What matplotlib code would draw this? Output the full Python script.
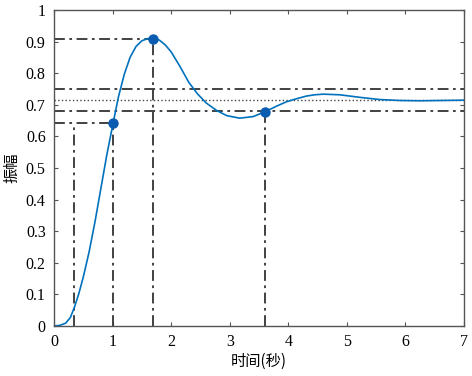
import matplotlib
matplotlib.use("Agg")
import matplotlib.pyplot as plt

# Curva de respuesta
tiempo = [0, 0.1, 0.2, 0.28, 0.35, 0.42, 0.5, 0.6, 0.7, 0.8, 0.9, 1.01, 1.1, 1.2,
          1.3, 1.4, 1.5, 1.6, 1.69, 1.8, 1.9, 2.0, 2.15, 2.3, 2.45, 2.6, 2.78, 2.95,
          3.17, 3.4, 3.6, 3.8, 3.97, 4.15, 4.31, 4.45, 4.6, 4.88, 5.22, 5.56, 5.9,
          6.25, 6.6, 7.0]
amplitud = [0, 0.002, 0.009, 0.027, 0.06, 0.10, 0.155, 0.235, 0.33, 0.435, 0.54,
            0.643, 0.725, 0.797, 0.851, 0.885, 0.903, 0.91, 0.911, 0.905, 0.89,
            0.868, 0.822, 0.772, 0.735, 0.706, 0.682, 0.666, 0.658, 0.663, 0.678,
            0.696, 0.71, 0.72, 0.728, 0.732, 0.734, 0.732, 0.724, 0.717, 0.714,
            0.713, 0.714, 0.715]

# Puntos caracteristicos
puntos_t = [1.01, 1.69, 3.6]
puntos_y = [0.643, 0.908, 0.678]

t_subida10 = 0.34
valor_final = 0.714
banda_sup = 0.75
banda_inf = 0.68

xticks = [0, 1, 2, 3, 4, 5, 6, 7]
yticks = [0, 0.1, 0.2, 0.3, 0.4, 0.5, 0.6, 0.7, 0.8, 0.9, 1]
yticklabels = ["0", "0.1", "0.2", "0.3", "0.4", "0.5", "0.6", "0.7", "0.8", "0.9", "1"]

plt.rcParams['font.family'] = ['Liberation Serif', 'DejaVu Serif']
fig = plt.figure(figsize=(4.72, 3.76), dpi=100)
ax = fig.add_axes([0.1144, 0.133, 0.8686, 0.840])

gris = '#333333'
estilo = dict(color=gris, linestyle='-.', linewidth=1.3, dashes=(6, 2.5, 1.5, 2.5))

# lineas horizontales
ax.plot([0, 7], [banda_sup, banda_sup], **estilo)
ax.plot([0, 7], [banda_inf, banda_inf], **estilo)
ax.plot([0, 7], [valor_final, valor_final], color='#444444', linestyle=':', linewidth=1.0)
ax.plot([0, puntos_t[1]], [puntos_y[1], puntos_y[1]], **estilo)
ax.plot([0, puntos_t[0]], [puntos_y[0], puntos_y[0]], **estilo)

# lineas verticales
ax.plot([t_subida10, t_subida10], [0, puntos_y[0]], **estilo)
for t, y in zip(puntos_t, puntos_y):
    ax.plot([t, t], [0, y], **estilo)

ax.plot(tiempo, amplitud, color='#0072BD', linewidth=1.2)
ax.plot(puntos_t, puntos_y, 'o', color='#0a5cb0', markersize=6.5, zorder=5)

ax.set_xlim(0, 7)
ax.set_ylim(0, 1)
ax.set_xticks(xticks)
ax.set_yticks(yticks)
ax.set_yticklabels(yticklabels)
ax.tick_params(direction='in', top=True, right=True, length=3, width=0.8,
               color='#555555', labelsize=11.5, pad=6)
for lado in ax.spines.values():
    lado.set_color('#555555')
    lado.set_linewidth(1.0)

ax.set_xlabel('时间(秒)', family=['Noto Sans CJK SC', 'DejaVu Sans'], fontsize=11, labelpad=2)
ax.set_ylabel('振幅', family=['Noto Sans CJK SC', 'DejaVu Sans'], fontsize=11, labelpad=4)

plt.savefig('out.png')
plt.close()
